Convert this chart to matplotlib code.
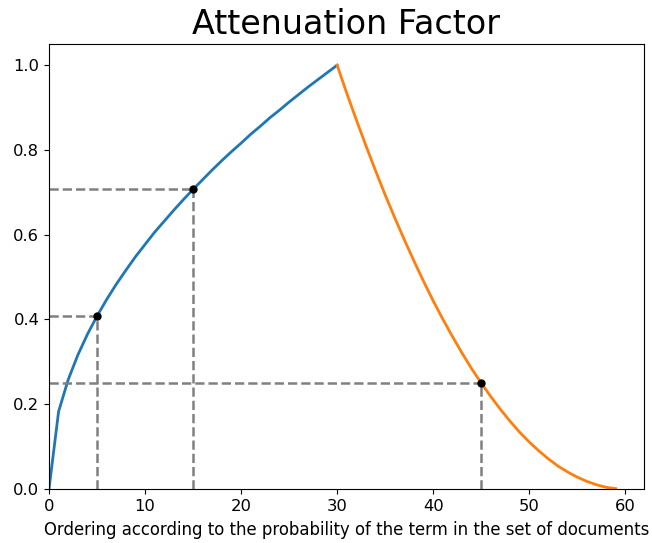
import matplotlib
matplotlib.use("Agg")
import matplotlib.pyplot as plt

# rising part (at integer positions)
x_up = list(range(0, 31))
y_up = [0.0, 0.183, 0.258, 0.316, 0.365, 0.408, 0.447, 0.483, 0.516, 0.548,
        0.577, 0.606, 0.632, 0.658, 0.683, 0.707, 0.730, 0.753, 0.775, 0.796,
        0.816, 0.837, 0.856, 0.876, 0.894, 0.913, 0.931, 0.949, 0.966, 0.983,
        1.0]

# falling part
x_down = list(range(30, 60))
y_down = [1.0, 0.934, 0.871, 0.810, 0.751, 0.694, 0.640, 0.588, 0.538, 0.490,
          0.444, 0.401, 0.360, 0.321, 0.284, 0.250, 0.218, 0.188, 0.160, 0.134,
          0.111, 0.090, 0.071, 0.054, 0.040, 0.028, 0.018, 0.010, 0.004, 0.001]

# marked points
mark_x = [5, 15, 45]
mark_y = [0.408, 0.707, 0.250]

fig = plt.figure(figsize=(6.52, 5.43), dpi=100)
ax = fig.add_axes([49 / 652, 1 - 489 / 543, 595 / 652, 445 / 543])

ax.plot(x_up, y_up, color="#1f77b4", lw=2)
ax.plot(x_down, y_down, color="#ff7f0e", lw=2)

for px, py in zip(mark_x, mark_y):
    ax.plot([0, px], [py, py], color="grey", ls="--", lw=1.8)
    ax.plot([px, px], [0, py], color="grey", ls="--", lw=1.8)
ax.plot(mark_x, mark_y, "o", color="black", ms=5, zorder=5)

ax.set_xlim(0, 61.95)
ax.set_ylim(0, 1.05)
ax.set_xticks([0, 10, 20, 30, 40, 50, 60])
ax.set_yticks([0.0, 0.2, 0.4, 0.6, 0.8, 1.0])
ax.tick_params(labelsize=11.8)
ax.set_xlabel("Ordering according to the probability of the term in the set of documents",
              fontsize=11.9, labelpad=5)
ax.set_title("Attenuation Factor", fontsize=24, pad=7)

fig.savefig("out.png", dpi=100)
